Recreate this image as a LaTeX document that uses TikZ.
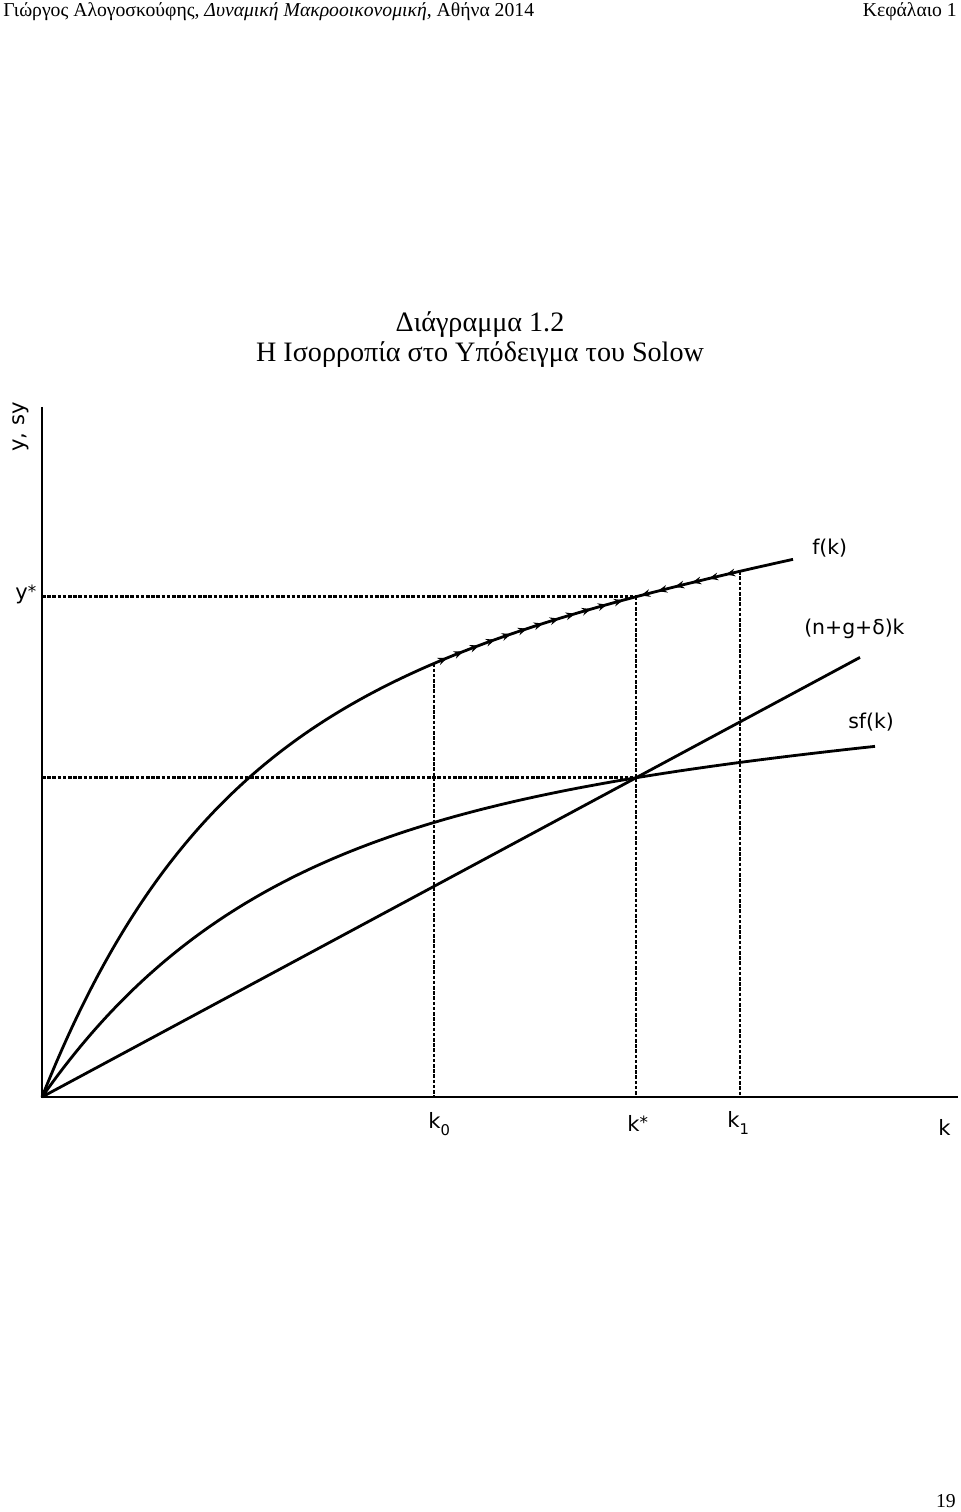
\documentclass[tikz,border=0pt]{standalone}
\usepackage{fontspec}
\setmainfont{Liberation Serif}
\newfontfamily\lblfont{DejaVu Sans}
\usetikzlibrary{arrows.meta}

\newcommand{\lo}[1]{\raisebox{-5.5pt}{\fontsize{10.5}{12}\selectfont #1}}
\newcommand{\st}{\raisebox{1.5pt}{\fontsize{12}{12}\selectfont *}}

\tikzset{
  declare function={fk(\x)=400*(1-exp(-\x/172))+0.19*\x; sfk(\x)=290*(1-exp(-\x/215))+0.08*\x;},
  axis/.style={line width=2.1pt, line join=miter},
  curve/.style={line width=2pt},
  guide/.style={line width=1.9pt, dash pattern=on 2.5pt off 1.2pt},
  flow/.style={line width=2pt, -{Stealth[length=6.5pt,width=5.5pt,inset=2.2pt]}},
  lbl/.style={font=\lblfont\fontsize{14.5}{17}\selectfont, inner sep=0pt, anchor=base west},
  axlbl/.style={font=\lblfont\fontsize{15}{18}\selectfont, inner sep=0pt, anchor=base west},
}

\begin{document}
\begin{tikzpicture}[x=0.025cm, y=0.025cm]
\useasboundingbox (-42,-415) rectangle (918,1097);

% page head and title
\node[anchor=base west, inner sep=0pt, font=\fontsize{14}{17}\selectfont] (hdl) at (-39,1080) {Γιώργος Αλογοσκούφης, \textit{Δυναμική Μακροοικονομική}, Αθήνα 2014};
\node[anchor=base east, inner sep=0pt, font=\fontsize{14}{17}\selectfont] (hdr) at (915,1080) {Κεφάλαιο 1};
\node[anchor=base, inner sep=0pt, font=\fontsize{20}{24}\selectfont] (title1) at (438,765) {Διάγραμμα 1.2};
\node[anchor=base, inner sep=0pt, font=\fontsize{20}{24}\selectfont] (title2) at (438,735) {Η Ισορροπία στο Υπόδειγμα του Solow};
\node[anchor=base east, inner sep=0pt, font=\fontsize{14}{17}\selectfont] (pg) at (914,-410) {19};

\coordinate (O) at (0,0);
\coordinate (ytop) at (0,690);
\coordinate (xend) at (916,0);
\coordinate (k0) at (392,0);
\coordinate (ks) at (594,0);
\coordinate (k1) at (698,0);
\coordinate (f0) at (392,{fk(392)});
\coordinate (fs) at (594,{fk(594)});
\coordinate (f1) at (698,{fk(698)});
\coordinate (ss) at (594,{sfk(594)});
\coordinate (ystar) at (0,{fk(594)});
\coordinate (sstar) at (0,{sfk(594)});
\coordinate (gend) at (818,{sfk(594)/594*818});

% dashed guides
\draw[guide] (ystar) -- (fs);
\draw[guide] (sstar) -- (ss);
\draw[guide] (f0) -- (k0);
\draw[guide] (fs) -- (ks);
\draw[guide] (f1) -- (k1);

% axes and curves
\draw[axis] (ytop) -- (O) -- (xend);
\draw[curve] plot[domain=0:751, samples=150, smooth] (\x,{fk(\x)});
\draw[curve] plot[domain=0:833, samples=150, smooth] (\x,{sfk(\x)});
\draw[curve] (O) -- (gend);

% movement along f(k)
\foreach \a in {405,421,...,581}
  \draw[flow] ({\a-3},{fk(\a-3)}) -- (\a,{fk(\a)});
\foreach \a in {599,616,...,684}
  \draw[flow] ({\a+3},{fk(\a+3)}) -- (\a,{fk(\a)});

% labels
\node[axlbl, rotate=90] (ylab) at (-18,645) {y, sy};
\node[axlbl] (ysl) at (-27,497) {y\st};
\node[lbl] (flab) at (770,542) {f(k)};
\node[lbl] (glab) at (762,462) {(n+g+δ)k};
\node[lbl] (slab) at (806,368) {sf(k)};
\node[axlbl] (k0lab) at (386,-31) {k\lo{0}};
\node[axlbl] (kslab) at (585,-34) {k\st};
\node[axlbl] (k1lab) at (685,-30) {k\lo{1}};
\node[axlbl] (klab) at (896,-38) {k};
\end{tikzpicture}
\end{document}
